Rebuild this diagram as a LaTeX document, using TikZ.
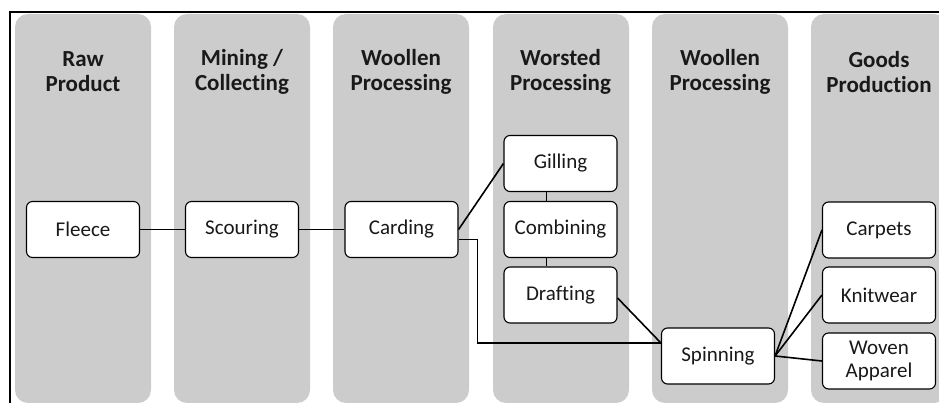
\documentclass[tikz,border=0pt]{standalone}
\usepackage{fontspec}
\setmainfont{Carlito}[Ligatures=NoCommon]
\definecolor{lanegray}{RGB}{204,204,204}
\begin{document}
\begin{tikzpicture}[x=1pt,y=-1pt,
  lane/.style={fill=lanegray,draw=none,rounded corners=13pt},
  lanehead/.style={align=center,font=\fontsize{23}{25}\selectfont\bfseries,text=black!90},
  stepbox/.style={draw=black,fill=white,line width=1.1pt,rounded corners=6pt,
    minimum width=113pt,minimum height=56pt,inner sep=0pt,align=center,
    font=\fontsize{21}{23}\selectfont,text=black!90},
  link/.style={draw=black,line width=1.6pt}]
\useasboundingbox (0,0) rectangle (939,403);
\begin{scope}
\clip (0,0) rectangle (939,403);
% swim lanes
\foreach \x in {15,174,333,493,652,811}
  \fill[lane] (\x,14) rectangle ++(136,389);
% outer frame (right and bottom edges fall outside the page)
\draw[line width=2pt] (10,420) -- (10,12) -- (960,12);
\end{scope}
% lane titles
\node[lanehead] (h1) at (83,72)    {Raw\\Product};
\node[lanehead] (h2) at (242,72)   {Mining /\\Collecting};
\node[lanehead] (h3) at (401,72)   {Woollen\\Processing};
\node[lanehead] (h4) at (560.5,72) {Worsted\\Processing};
\node[lanehead] (h5) at (720,72)   {Woollen\\Processing};
\node[lanehead] (h6) at (879,72)   {Goods\\Production};
% process steps
\node[stepbox] (fleece)   at (83,229.5)    {Fleece};
\node[stepbox] (scour)    at (242,229.5)   {Scouring};
\node[stepbox] (card)     at (401.5,229.5) {Carding};
\node[stepbox] (gill)     at (560.5,163.5) {Gilling};
\node[stepbox] (comb)     at (560.5,229.5) {Combining};
\node[stepbox] (draft)    at (560.5,295)   {Drafting};
\node[stepbox] (spin)     at (718,356)     {Spinning};
\node[stepbox] (carpet)   at (879,230)     {Carpets};
\node[stepbox] (knit)     at (879,295)     {Knitwear};
\node[stepbox] (woven)    at (879,361)     {Woven\\Apparel};
% connectors
\path[link] (fleece.east) -- (scour.west);
\path[link] (scour.east) -- (card.west);
\path[link] (card.east) -- (gill.west);
\coordinate (spinin) at ([yshift=13pt]spin.west);
\path[link] ([yshift=-10pt]card.east) -- ++(19,0) |- (spinin);
\path[link] ([yshift=-3pt]draft.east) -- (spinin);
\path[link] ([xshift=-14pt]gill.south) -- ([xshift=-14pt]comb.north);
\path[link] ([xshift=-14pt]comb.south) -- ([xshift=-14pt]draft.north);
\path[link] (spin.east) -- (carpet.west);
\path[link] (spin.east) -- (knit.west);
\path[link] (spin.east) -- (woven.west);
\end{tikzpicture}
\end{document}
